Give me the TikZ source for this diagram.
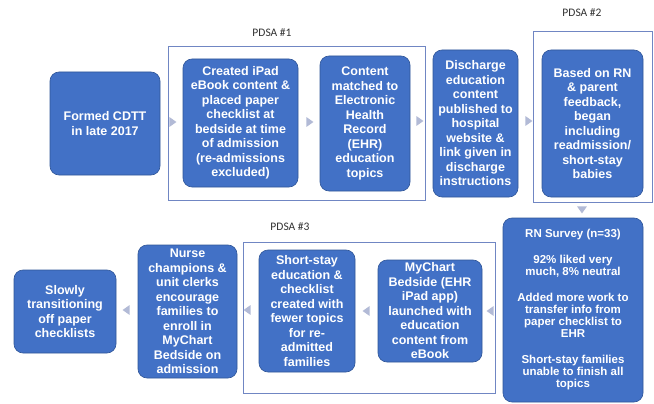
\documentclass[tikz,border=0pt]{standalone}
\usepackage{fontspec}
\setmainfont{Liberation Sans}
\newfontfamily\labelfont{Carlito}
\usetikzlibrary{shapes.geometric}
\definecolor{boxblue}{RGB}{66,113,198}
\definecolor{boxedge}{RGB}{47,85,151}
\definecolor{framecol}{RGB}{112,134,195}
\definecolor{arrcol}{RGB}{178,186,214}
\definecolor{labcol}{RGB}{50,50,50}
\begin{document}
\begin{tikzpicture}[x=1pt,y=-1pt,
  box/.style={draw=boxedge,line width=0.6pt,fill=boxblue,rounded corners=9pt,text=white,align=center,inner sep=2pt,
    font=\fontsize{12.5}{14.5}\selectfont\bfseries},
  framebox/.style={draw=framecol,line width=1pt,inner sep=0pt},
  pdsa/.style={text=labcol,font=\labelfont\fontsize{11.5}{13}\selectfont},
  tri/.style={isosceles triangle,isosceles triangle apex angle=70,fill=arrcol,draw=none,inner sep=0pt,minimum height=7pt,minimum width=9pt}
]
\useasboundingbox (0,0) rectangle (654,404);
\fill[white] (0,0) rectangle (654,404);

% frames
\node[framebox,minimum width=257pt,minimum height=153pt] (f1) at (296.5,123.5) {};
\node[framebox,minimum width=119pt,minimum height=170pt] (f2) at (592.5,117) {};
\node[framebox,minimum width=252pt,minimum height=151pt] (f3) at (369,317.5) {};
\node[pdsa] (l1) at (272,33) {PDSA \#1};
\node[pdsa] (l2) at (582,13) {PDSA \#2};
\node[pdsa] (l3) at (290,227) {PDSA \#3};

% top row
\node[box,minimum width=110pt,minimum height=103pt] (cdtt) at (105,123.5) {Formed CDTT\\in late 2017};
\node[box,minimum width=115pt,minimum height=128pt] (ipad) at (240.5,123) {Created iPad\\eBook content \&\\placed paper\\checklist at\\bedside at time\\of admission\\(re-admissions\\excluded)};
\node[box,minimum width=90pt,minimum height=135pt] (ehr) at (365,123.5) {Content\\matched to\\Electronic\\Health\\Record\\(EHR)\\education\\topics};
\node[box,minimum width=85pt,minimum height=147pt] (disc) at (475.5,123.5) {Discharge\\education\\content\\published to\\hospital\\website \&\\link given in\\discharge\\instructions};
\node[box,minimum width=101pt,minimum height=147pt] (rn) at (592.5,123.5) {Based on RN\\\& parent\\feedback,\\began\\including\\readmission/\\short-stay\\babies};

% bottom row
\node[box,minimum width=102pt,minimum height=83pt] (slow) at (65,311.5) {Slowly\\transitioning\\off paper\\checklists};
\node[box,minimum width=99pt,minimum height=133pt] (nurse) at (187.5,311.5) {Nurse\\champions \&\\unit clerks\\encourage\\families to\\enroll in\\MyChart\\Bedside on\\admission};
\node[box,minimum width=96pt,minimum height=122pt] (short) at (307,311) {Short-stay\\education \&\\checklist\\created with\\fewer topics\\for re-\\admitted\\families};
\node[box,minimum width=104pt,minimum height=102pt] (mychart) at (430,311) {MyChart\\Bedside (EHR\\iPad app)\\launched with\\education\\content from\\eBook};
\node[box,minimum width=140pt,minimum height=184pt,font=\fontsize{11.5}{12}\selectfont\bfseries] (survey) at (573,310) {RN Survey (n=33)\\[14pt]92\% liked very\\much, 8\% neutral\\[14pt]Added more work to\\transfer info from\\paper checklist to\\EHR\\[14pt]Short-stay families\\unable to finish all\\topics};

% arrows
\node[tri,shape border rotate=0] (a1) at (172,122) {};
\node[tri,shape border rotate=0] (a2) at (309,122) {};
\node[tri,shape border rotate=0] (a3) at (419,121) {};
\node[tri,shape border rotate=0] (a4) at (528,121) {};
\node[tri,shape border rotate=270] (a5) at (582,209) {};
\node[tri,shape border rotate=180] (a6) at (491,311) {};
\node[tri,shape border rotate=180] (a7) at (367,311) {};
\node[tri,shape border rotate=180] (a8) at (248,310) {};
\node[tri,shape border rotate=180] (a9) at (127,310) {};
\end{tikzpicture}
\end{document}
